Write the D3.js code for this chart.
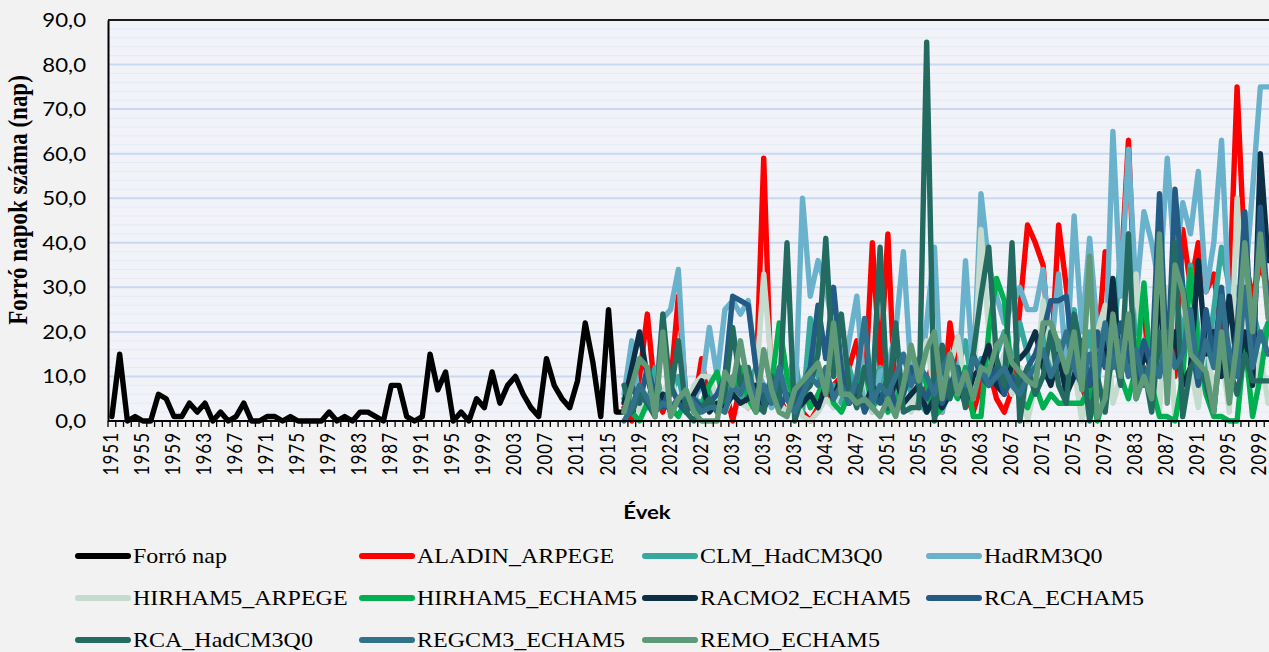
<!DOCTYPE html>
<html>
<head>
<meta charset="utf-8">
<script src="https://cdn.jsdelivr.net/npm/d3@7"></script>
<style>
  html, body { margin: 0; padding: 0; background: #f2f2f2; }
  svg { display: block; }
</style>
</head>
<body>
<svg id="chart" width="1269" height="652"></svg>
<script>
// Categories: one per year, 1951–2100
const years = d3.range(1951, 2101);
const tickYears = years.filter((yr, i) => i % 4 === 0);
const yTicks = [0, 10, 20, 30, 40, 50, 60, 70, 80, 90];

// Observed hot days, 1951–2017
const forroNap = [1, 15, 0, 1, 0, 0, 6, 5, 1, 1,
  4, 2, 4, 0, 2, 0, 1, 4, 0, 0,
  1, 1, 0, 1, 0, 0, 0, 0, 2, 0,
  1, 0, 2, 2, 1, 0, 8, 8, 1, 0,
  1, 15, 7, 11, 0, 2, 0, 5, 3, 11,
  4, 8, 10, 6, 3, 1, 14, 8, 5, 3,
  9, 22, 13, 1, 25, 2, 2];

// Regional climate model projections, 2017–2100
const aladinArpege = [3, 0, 10, 24, 6, 2, 8, 28, 5, 3,
  14, 3, 5, 8, 0, 8, 3, 8, 59, 5,
  5, 2, 4, 2, 0, 3, 5, 8, 10, 12,
  18, 5, 40, 12, 42, 2, 5, 10, 3, 8,
  15, 2, 22, 10, 6, 2, 8, 12, 5, 2,
  7, 25, 44, 40, 35, 12, 44, 30, 15, 8,
  2, 15, 38, 25, 32, 63, 20, 25, 5, 18,
  12, 10, 43, 30, 40, 29, 33, 20, 28, 75,
  36, 28, 35, 30];
const clmHadcm3q0 = [2, 5, 8, 3, 12, 4, 6, 10, 2, 5,
  4, 8, 3, 6, 10, 5, 8, 12, 3, 6,
  10, 8, 15, 2, 23, 10, 6, 8, 4, 12,
  6, 10, 8, 12, 3, 5, 10, 6, 4, 2,
  8, 5, 10, 12, 18, 6, 14, 10, 15, 20,
  12, 22, 15, 8, 20, 10, 18, 6, 25, 12,
  20, 8, 25, 15, 38, 42, 20, 18, 10, 25,
  15, 30, 18, 35, 20, 12, 25, 39, 30, 20,
  15, 25, 18, 22];
const hadrm3q0 = [6, 18, 3, 5, 4, 23, 25, 34, 3, 5,
  8, 21, 10, 25, 27, 24, 27, 12, 8, 3,
  5, 10, 2, 50, 28, 36, 30, 20, 8, 18,
  28, 6, 2, 11, 12, 20, 38, 10, 5, 22,
  39, 2, 8, 6, 36, 10, 51, 35, 28, 22,
  26, 30, 25, 25, 34, 15, 33, 12, 46, 20,
  41, 20, 12, 65, 28, 61, 28, 47, 40, 30,
  59, 35, 49, 42, 56, 29, 40, 63, 25, 30,
  30, 52, 75, 75];
const hirham5Arpege = [4, 8, 2, 5, 3, 6, 10, 4, 2, 8,
  10, 10, 5, 2, 6, 4, 3, 8, 33, 12,
  4, 2, 6, 1, 0, 2, 5, 3, 8, 6,
  4, 10, 2, 6, 3, 5, 8, 2, 12, 18,
  6, 3, 12, 19, 8, 5, 43, 20, 10, 15,
  6, 12, 0, 8, 27, 15, 10, 5, 12, 0,
  8, 20, 26, 4, 10, 15, 33, 8, 14, 2,
  30, 0, 8, 12, 3, 20, 5, 15, 2, 50,
  20, 8, 15, 4];
const hirham5Echam5 = [5, 2, 0, 4, 2, 6, 3, 1, 5, 2,
  3, 8, 11, 3, 6, 12, 5, 2, 4, 8,
  22, 10, 4, 8, 3, 6, 10, 4, 2, 6,
  8, 12, 3, 6, 2, 5, 8, 10, 14, 8,
  1, 3, 8, 5, 12, 1, 1, 20, 32, 27,
  10, 5, 3, 8, 3, 6, 4, 4, 4, 4,
  8, 0, 6, 15, 10, 5, 12, 31, 8, 1,
  1, 0, 10, 34, 16, 6, 1, 1, 0, 0,
  18, 1, 10, 22];
const racmo2Echam5 = [4, 12, 20, 10, 3, 6, 2, 5, 3, 6,
  9, 2, 4, 3, 6, 4, 5, 8, 3, 6,
  11, 5, 2, 4, 6, 3, 8, 5, 10, 4,
  6, 3, 8, 5, 3, 10, 4, 6, 8, 2,
  5, 3, 6, 8, 4, 10, 12, 17, 8, 6,
  13, 14, 16, 20, 12, 8, 15, 6, 10, 18,
  8, 12, 14, 32, 10, 20, 6, 15, 12, 28,
  10, 20, 8, 12, 36, 15, 20, 10, 28, 12,
  20, 8, 60, 36];
const rcaEcham5 = [2, 8, 4, 12, 6, 3, 8, 4, 2, 5,
  3, 4, 6, 10, 28, 27, 26, 12, 4, 10,
  3, 6, 4, 8, 12, 26, 14, 30, 12, 4,
  8, 2, 6, 4, 10, 3, 6, 12, 8, 5,
  10, 4, 8, 12, 5, 15, 10, 8, 12, 6,
  10, 8, 12, 15, 20, 27, 27, 28, 12, 18,
  8, 20, 12, 16, 22, 14, 10, 18, 12, 51,
  10, 52, 30, 18, 8, 25, 14, 30, 10, 20,
  47, 15, 48, 25];
const rcaHadcm3q0 = [8, 2, 6, 4, 1, 24, 6, 18, 2, 0,
  3, 5, 2, 6, 21, 8, 12, 4, 2, 10,
  5, 40, 0, 6, 8, 15, 41, 10, 24, 8,
  3, 12, 6, 39, 3, 22, 2, 3, 3, 85,
  0, 17, 5, 12, 3, 15, 28, 39, 14, 8,
  40, 0, 12, 6, 10, 20, 8, 4, 24, 15,
  0, 10, 2, 18, 8, 42, 5, 12, 2, 20,
  8, 40, 1, 12, 15, 8, 2, 20, 12, 6,
  15, 9, 9, 9];
const regcm3Echam5 = [0, 3, 8, 5, 2, 4, 3, 5, 6, 4,
  2, 3, 3, 2, 8, 6, 10, 5, 8, 4,
  12, 5, 2, 6, 10, 8, 12, 5, 8, 4,
  10, 23, 4, 8, 6, 10, 15, 8, 12, 10,
  6, 12, 15, 10, 8, 14, 12, 8, 10, 12,
  8, 6, 10, 12, 16, 10, 14, 20, 12, 8,
  15, 10, 22, 12, 18, 10, 16, 8, 14, 10,
  20, 12, 15, 25, 10, 18, 12, 28, 15, 10,
  30, 12, 20, 15];
const remoEcham5 = [2, 8, 14, 12, 1, 20, 1, 5, 7, 2,
  0, 0, 0, 11, 8, 18, 8, 2, 16, 7,
  2, 1, 7, 9, 11, 13, 6, 22, 6, 6,
  4, 5, 3, 1, 5, 1, 8, 17, 9, 16,
  20, 5, 15, 6, 11, 5, 12, 11, 17, 19,
  13, 11, 9, 8, 22, 22, 17, 11, 20, 7,
  37, 1, 5, 24, 10, 24, 5, 10, 5, 42,
  4, 35, 29, 15, 13, 11, 2, 20, 4, 18,
  40, 20, 42, 23];

const seriesNames = ["Forró nap", "ALADIN_ARPEGE", "CLM_HadCM3Q0", "HadRM3Q0",
  "HIRHAM5_ARPEGE", "HIRHAM5_ECHAM5", "RACMO2_ECHAM5", "RCA_ECHAM5",
  "RCA_HadCM3Q0", "REGCM3_ECHAM5", "REMO_ECHAM5"];
const seriesColors = ["#000000", "#ff0000", "#37a89e", "#6ab2cc",
  "#c4dbcd", "#00b050", "#0c2f45", "#235b84",
  "#236b60", "#30728c", "#5e9a78"];

const observedStart = 1951;
const projectionStart = 2017;
const seriesData = [forroNap, aladinArpege, clmHadcm3q0, hadrm3q0, hirham5Arpege,
  hirham5Echam5, racmo2Echam5, rcaEcham5, rcaHadcm3q0, regcm3Echam5, remoEcham5];

const series = seriesNames.map((name, i) => {
  const start = i === 0 ? observedStart : projectionStart;
  return {
    name,
    color: seriesColors[i],
    points: seriesData[i].map((v, j) => ({ year: start + j, v }))
  };
});

// Layout
const plot = { left: 108, right: 1272, top: 20, bottom: 421 };

const svg = d3.select("#chart");

const x = d3.scaleBand().domain(years).range([plot.left, plot.right]).padding(0);
const y = d3.scaleLinear().domain([0, 90]).range([plot.bottom, plot.top]);
const cx = yr => x(yr) + x.bandwidth() / 2;

// Plot area background
svg.append("rect")
  .attr("x", plot.left).attr("y", plot.top)
  .attr("width", plot.right - plot.left).attr("height", plot.bottom - plot.top)
  .attr("fill", "#f1f3f8");

// Minor gridlines every 2 days
const minor = d3.range(2, 90, 2).filter(v => v % 10 !== 0);
svg.append("g").selectAll("line").data(minor).join("line")
  .attr("x1", plot.left).attr("x2", plot.right)
  .attr("y1", d => y(d)).attr("y2", d => y(d))
  .attr("stroke", "#e4eaf6").attr("stroke-width", 1);

// Major gridlines
svg.append("g").selectAll("line").data(yTicks.filter(v => v > 0 && v < 90)).join("line")
  .attr("x1", plot.left).attr("x2", plot.right)
  .attr("y1", d => y(d)).attr("y2", d => y(d))
  .attr("stroke", "#c8d9f4").attr("stroke-width", 2);

// Top border
svg.append("line")
  .attr("x1", plot.left).attr("x2", plot.right)
  .attr("y1", plot.top).attr("y2", plot.top)
  .attr("stroke", "#1a1a1a").attr("stroke-width", 2);

// Series lines
const line = d3.line().x(d => cx(d.year)).y(d => y(d.v));
svg.append("g").selectAll("path").data(series).join("path")
  .attr("d", d => line(d.points))
  .attr("fill", "none")
  .attr("stroke", d => d.color)
  .attr("stroke-width", 5.4)
  .attr("stroke-linejoin", "round")
  .attr("stroke-linecap", "round");

// Y axis
const yAxis = d3.axisLeft(y).tickValues(yTicks).tickSize(0).tickPadding(0)
  .tickFormat(d => d3.format(".1f")(d).replace(".", ","));
const gy = svg.append("g").attr("transform", `translate(${plot.left},0)`).call(yAxis);
gy.select(".domain").attr("stroke", "#000").attr("stroke-width", 2);
gy.selectAll("text")
  .attr("x", 0).attr("dy", "0.35em")
  .attr("transform", "translate(-22,0) scale(1.2,1)")
  .style("font-family", "Lato, 'Open Sans', sans-serif")
  .style("font-size", "18.5px")
  .attr("fill", "#000");

// X axis: ticks on category boundaries, labels every fourth year
const xAxisLine = svg.append("g");
xAxisLine.append("line")
  .attr("x1", plot.left).attr("x2", plot.right)
  .attr("y1", plot.bottom).attr("y2", plot.bottom)
  .attr("stroke", "#000").attr("stroke-width", 2);
xAxisLine.selectAll("line.tick").data(years).join("line")
  .attr("class", "tick")
  .attr("x1", d => x(d)).attr("x2", d => x(d))
  .attr("y1", plot.bottom).attr("y2", plot.bottom + 6)
  .attr("stroke", "#000").attr("stroke-width", 1.3);

svg.append("g").selectAll("text").data(tickYears).join("text")
  .attr("transform", d => `translate(${cx(d) + 6},${plot.bottom + 11}) scale(1.2,1) rotate(-90)`)
  .attr("text-anchor", "end")
  .style("font-family", "Lato, 'Open Sans', sans-serif")
  .style("font-size", "17px")
  .style("letter-spacing", "1px")
  .attr("fill", "#000")
  .text(d => d);

// Axis titles
svg.append("text")
  .attr("transform", "translate(647,519) scale(1.2,1)")
  .attr("text-anchor", "middle")
  .style("font-family", "Lato, 'Open Sans', sans-serif")
  .style("font-weight", "bold")
  .style("font-size", "18.5px")
  .text("Évek");

svg.append("text")
  .attr("transform", "translate(27,200) scale(1.15,1) rotate(-90)")
  .attr("text-anchor", "middle")
  .style("font-family", "'Liberation Serif', 'Times New Roman', serif")
  .style("font-weight", "bold")
  .style("font-size", "23px")
  .text("Forró napok száma (nap)");

// Legend: 4 columns, 3 rows
const legendCols = [76, 360, 643, 927];
const legendRows = [556, 598, 640];
const lg = svg.append("g").selectAll("g").data(series).join("g")
  .attr("transform", (d, i) => `translate(${legendCols[i % 4]},${legendRows[Math.floor(i / 4)]})`);
lg.append("line")
  .attr("x1", 2).attr("x2", 52).attr("y1", 0).attr("y2", 0)
  .attr("stroke", d => d.color).attr("stroke-width", 6)
  .attr("stroke-linecap", "round");
lg.append("text")
  .attr("transform", "translate(57,0) scale(1.2,1)")
  .attr("dy", "0.35em")
  .style("font-family", "'Liberation Serif', 'Times New Roman', serif")
  .style("font-size", "20px")
  .attr("fill", "#000")
  .text(d => d.name);
</script>
</body>
</html>
